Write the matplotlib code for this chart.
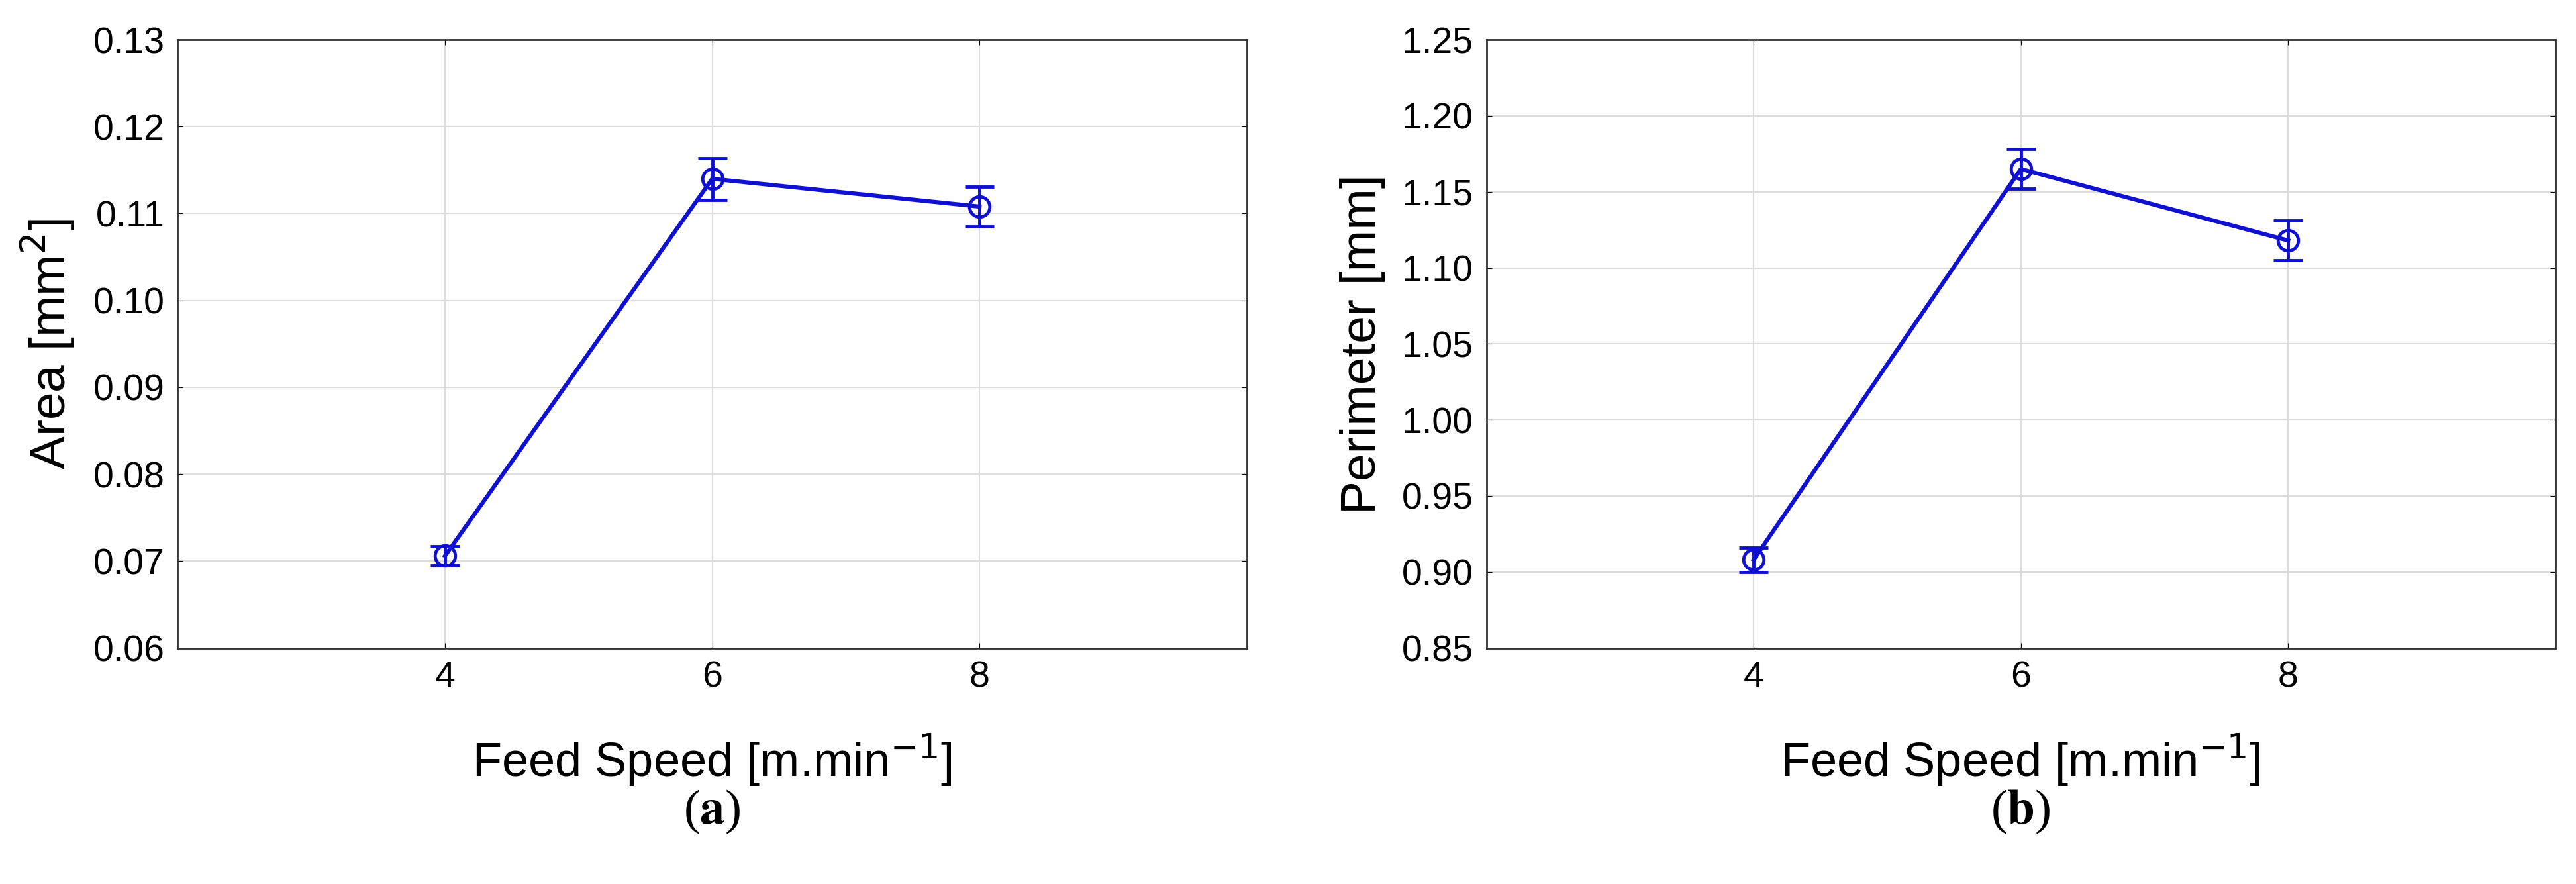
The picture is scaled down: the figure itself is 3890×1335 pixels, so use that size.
import numpy as np
import matplotlib.pyplot as plt

feed_speed = [4, 6, 8]
area = [0.0706, 0.1140, 0.1108]
area_err = [0.0011, 0.0024, 0.0023]
perimeter = [0.908, 1.165, 1.118]
perimeter_err = [0.008, 0.013, 0.013]

plt.rcParams['font.family'] = ['Liberation Sans', 'DejaVu Sans']

fig = plt.figure(figsize=(38.9, 13.35), dpi=100)
ax1 = fig.add_axes([0.069, 0.267, 0.415, 0.688])
ax2 = fig.add_axes([0.577, 0.267, 0.415, 0.688])

panels = [
    (ax1, area, area_err, (0.06, 0.13), np.arange(0.06, 0.1301, 0.01), 'Area [mm$^2$]', 'a'),
    (ax2, perimeter, perimeter_err, (0.85, 1.25), np.arange(0.85, 1.2501, 0.05), 'Perimeter [mm]', 'b'),
]

for ax, vals, errs, ylim, yticks, ylab, tag in panels:
    ax.errorbar(feed_speed, vals, yerr=errs, color='#1010d0', lw=4.5,
                marker='o', ms=22, mfc='none', mew=3.5, capsize=16, capthick=3.5, elinewidth=3.5)
    ax.set_xlim(2, 10)
    ax.set_ylim(*ylim)
    ax.set_xticks(feed_speed)
    ax.set_yticks(yticks)
    ax.set_yticklabels(['%.2f' % v for v in yticks])
    ax.grid(True, color='#dddddd', lw=1.5)
    ax.set_axisbelow(True)
    ax.tick_params(labelsize=40, direction='in', length=6, pad=14,
                   top=True, right=True)
    for s in ax.spines.values():
        s.set_linewidth(2)
        s.set_color('#333333')
    ax.set_xlabel('Feed Speed [m.min$^{-1}$]', fontsize=52, labelpad=40)
    ax.set_ylabel(ylab, fontsize=54, labelpad=18)
    ax.text(0.5, -0.27, '(' + r'$\mathbf{' + tag + '}$' + ')', transform=ax.transAxes,
            ha='center', va='center', fontsize=54, family='Liberation Serif',
            math_fontfamily='stix')

fig.savefig('out.png')
